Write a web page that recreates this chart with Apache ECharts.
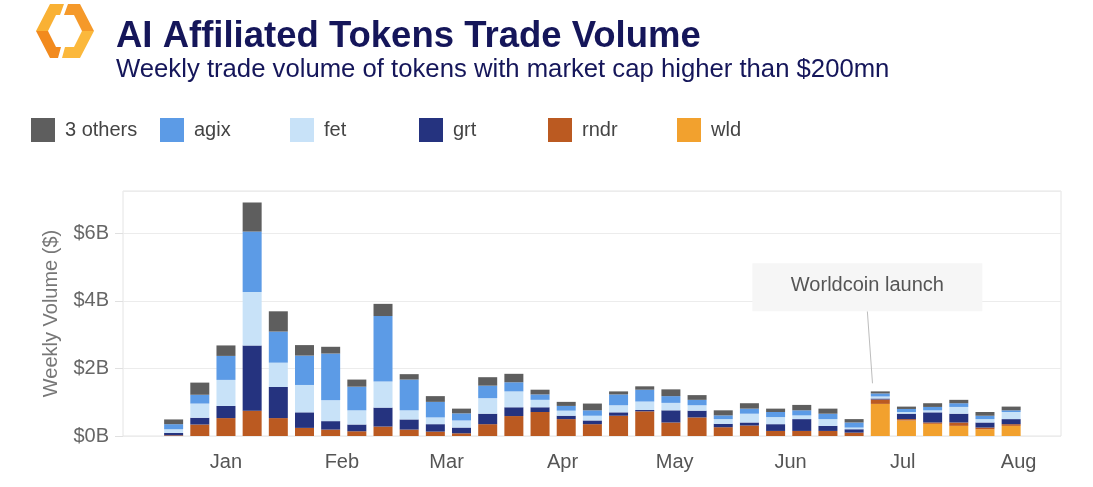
<!DOCTYPE html>
<html>
<head>
<meta charset="utf-8">
<title>AI Affiliated Tokens Trade Volume</title>
<script src="https://cdn.jsdelivr.net/npm/echarts@6/dist/echarts.min.js"></script>
<style>
  html, body { margin: 0; padding: 0; background: #fff; }
  #chart { width: 1093px; height: 487px; }
</style>
</head>
<body>
<div id="chart"></div>
<script>
// weekly buckets (week start)
const weeks = [
  '2022-12-18', '2022-12-25', '2023-01-01', '2023-01-08', '2023-01-15', '2023-01-22',
  '2023-01-29', '2023-02-05', '2023-02-12', '2023-02-19', '2023-02-26', '2023-03-05',
  '2023-03-12', '2023-03-19', '2023-03-26', '2023-04-02', '2023-04-09', '2023-04-16',
  '2023-04-23', '2023-04-30', '2023-05-07', '2023-05-14', '2023-05-21', '2023-05-28',
  '2023-06-04', '2023-06-11', '2023-06-18', '2023-06-25', '2023-07-02', '2023-07-09',
  '2023-07-16', '2023-07-23', '2023-07-30'
]

// volumes in $B
const wld = [
  0, 0, 0, 0, 0, 0, 0, 0, 0, 0, 0, 0, 0, 0, 0, 0, 0, 0, 0, 0, 0, 0, 0, 0, 0, 0, 0,
  0.95, 0.46, 0.36, 0.30, 0.20, 0.30
]
const rndr = [
  0.02, 0.34, 0.53, 0.75, 0.53, 0.24, 0.19, 0.14, 0.28, 0.19, 0.13, 0.08, 0.35, 0.59, 0.71, 0.50,
  0.35, 0.60, 0.73, 0.40, 0.55, 0.26, 0.31, 0.15, 0.15, 0.15, 0.10, 0.13, 0.04, 0.04, 0.10, 0.05, 0.05
]
const grt = [
  0.07, 0.20, 0.36, 1.93, 0.92, 0.46, 0.25, 0.20, 0.56, 0.30, 0.22, 0.17, 0.31, 0.26, 0.14, 0.10,
  0.11, 0.10, 0.04, 0.36, 0.20, 0.10, 0.09, 0.20, 0.35, 0.15, 0.10, 0.03, 0.16, 0.30, 0.26, 0.15, 0.15
]
const fet = [
  0.11, 0.42, 0.77, 1.58, 0.72, 0.81, 0.62, 0.42, 0.77, 0.27, 0.20, 0.21, 0.46, 0.47, 0.22, 0.15,
  0.14, 0.21, 0.25, 0.22, 0.16, 0.14, 0.26, 0.21, 0.11, 0.20, 0.05, 0.06, 0.05, 0.06, 0.20, 0.10, 0.21
]
const agix = [
  0.15, 0.26, 0.71, 1.79, 0.92, 0.87, 1.38, 0.70, 1.94, 0.91, 0.46, 0.21, 0.37, 0.27, 0.16, 0.14,
  0.16, 0.32, 0.35, 0.20, 0.16, 0.11, 0.15, 0.15, 0.15, 0.16, 0.15, 0.09, 0.09, 0.10, 0.11, 0.10, 0.05
]
const others = [
  0.14, 0.36, 0.31, 0.86, 0.60, 0.31, 0.20, 0.21, 0.36, 0.16, 0.17, 0.14, 0.25, 0.25, 0.14, 0.12,
  0.20, 0.09, 0.10, 0.20, 0.14, 0.15, 0.16, 0.10, 0.16, 0.15, 0.10, 0.06, 0.07, 0.11, 0.10, 0.11, 0.11
]

const monthLabels = ['Jan', 'Feb', 'Mar', 'Apr', 'May', 'Jun', 'Jul', 'Aug', 'Sep', 'Oct', 'Nov', 'Dec']
const legendNames = ['3 others', 'agix', 'fet', 'grt', 'rndr', 'wld']
const legendLeft = [31, 160, 290, 419, 548, 677]

const chart = echarts.init(document.getElementById('chart'))
const font = 'Liberation Sans, Arial, Helvetica, sans-serif'

const colors = {
  '3 others': '#5e5e5e',
  agix: '#5c9be6',
  fet: '#c8e2f8',
  grt: '#25337f',
  rndr: '#bb5a21',
  wld: '#f2a12e'
}

// bottom to top
const stack = [
  ['wld', wld], ['rndr', rndr], ['grt', grt], ['fet', fet], ['agix', agix], ['3 others', others]
]

function pairs(values) {
  return weeks.map((w, i) => [w, values[i]])
}

const option = {
  backgroundColor: '#fff',
  animation: false,
  textStyle: { fontFamily: font },
  title: [
    {
      text: 'AI Affiliated Tokens Trade Volume',
      left: 116, top: 18, padding: 0,
      textStyle: { fontSize: 36.5, fontWeight: 'bold', color: '#15165a', fontFamily: font }
    },
    {
      text: 'Weekly trade volume of tokens with market cap higher than $200mn',
      left: 116, top: 57, padding: 0,
      textStyle: { fontSize: 25.7, fontWeight: 'normal', color: '#15165a', fontFamily: font }
    }
  ],
  legend: legendNames.map((name, i) => ({
    data: [name],
    left: legendLeft[i], top: 118, padding: 0,
    icon: 'rect', itemWidth: 24, itemHeight: 24,
    selectedMode: false,
    textStyle: { fontSize: 20, color: '#444', fontFamily: font, padding: [0, 0, 0, 5] }
  })),
  grid: {
    left: 123, right: 32, top: 191, bottom: 51,
    show: true, borderColor: '#e4e4e4', borderWidth: 1
  },
  xAxis: {
    type: 'time',
    // echarts widens a bar axis by half a bar on each side, so these sit a bit inside
    min: +new Date(2022, 11, 7, 0),
    max: +new Date(2023, 7, 9, 19),
    splitNumber: 8,
    axisLine: { show: false },
    axisTick: { show: false },
    splitLine: { show: false },
    axisLabel: {
      fontSize: 20, color: '#555', margin: 16, fontFamily: font,
      formatter: (value) => {
        const d = new Date(value)
        return d.getDate() === 1 ? monthLabels[d.getMonth()] : ''
      }
    }
  },
  yAxis: {
    type: 'value',
    min: 0, max: 7.25, interval: 2,
    name: 'Weekly Volume ($)',
    nameLocation: 'middle',
    nameGap: 62,
    nameTextStyle: { fontSize: 20, color: '#777', fontFamily: font },
    axisLine: { show: false },
    axisTick: { show: true, length: 8, lineStyle: { color: '#e0e0e0' } },
    splitLine: { lineStyle: { color: '#ececec' } },
    axisLabel: {
      fontSize: 20, color: '#666', margin: 14, fontFamily: font,
      showMaxLabel: false,
      formatter: (v) => '$' + v + 'B'
    }
  },
  series: stack.map(([name, values]) => ({
    name,
    type: 'bar',
    stack: 'total',
    barWidth: 19,
    data: pairs(values),
    itemStyle: { color: colors[name] }
  }))
}

chart.setOption(option)

// annotation, placed in data space
const noteText = 'Worldcoin launch'
const noteDate = +new Date(2023, 5, 21, 13)
const noteBottomY = 3.69
const notePointDate = +new Date(2023, 5, 22, 22)
const notePointY = 1.56

function drawExtras() {
  const start = chart.convertToPixel({ gridIndex: 0 }, [noteDate, noteBottomY])
  const end = chart.convertToPixel({ gridIndex: 0 }, [notePointDate, notePointY])
  const boxW = 230
  const boxH = 48

  chart.setOption({
    graphic: [
      // logo: hexagon ring split in two halves
      { id: 'logo1', type: 'polygon', shape: { points: [[50, 4], [64, 4], [60, 15], [56, 15], [48, 31], [36, 31]] }, style: { fill: '#f9b134' } },
      { id: 'logo2', type: 'polygon', shape: { points: [[36, 31], [48, 31], [56, 47], [61, 47], [58, 58], [50, 58]] }, style: { fill: '#f28a1e' } },
      { id: 'logo3', type: 'polygon', shape: { points: [[68, 4], [80, 4], [94, 31], [82, 31], [74, 15], [64, 15]] }, style: { fill: '#f5992a' } },
      { id: 'logo4', type: 'polygon', shape: { points: [[94, 31], [82, 31], [74, 47], [65, 47], [62, 58], [80, 58]] }, style: { fill: '#fbb83c' } },
      // note box + pointer
      {
        id: 'noteLine', type: 'line', z: 10,
        shape: { x1: start[0], y1: start[1], x2: end[0], y2: end[1] },
        style: { stroke: '#bdbdbd', lineWidth: 1 }
      },
      {
        id: 'noteBox', type: 'rect', z: 10,
        shape: { x: start[0] - boxW / 2, y: start[1] - boxH, width: boxW, height: boxH },
        style: { fill: '#f6f6f6' }
      },
      {
        id: 'noteText', type: 'text', z: 11,
        x: start[0], y: start[1] - boxH / 2 - 2,
        style: {
          text: noteText, fontSize: 20, fill: '#555', fontFamily: font,
          align: 'center', verticalAlign: 'middle'
        }
      }
    ]
  })
}

drawExtras()
</script>
</body>
</html>
